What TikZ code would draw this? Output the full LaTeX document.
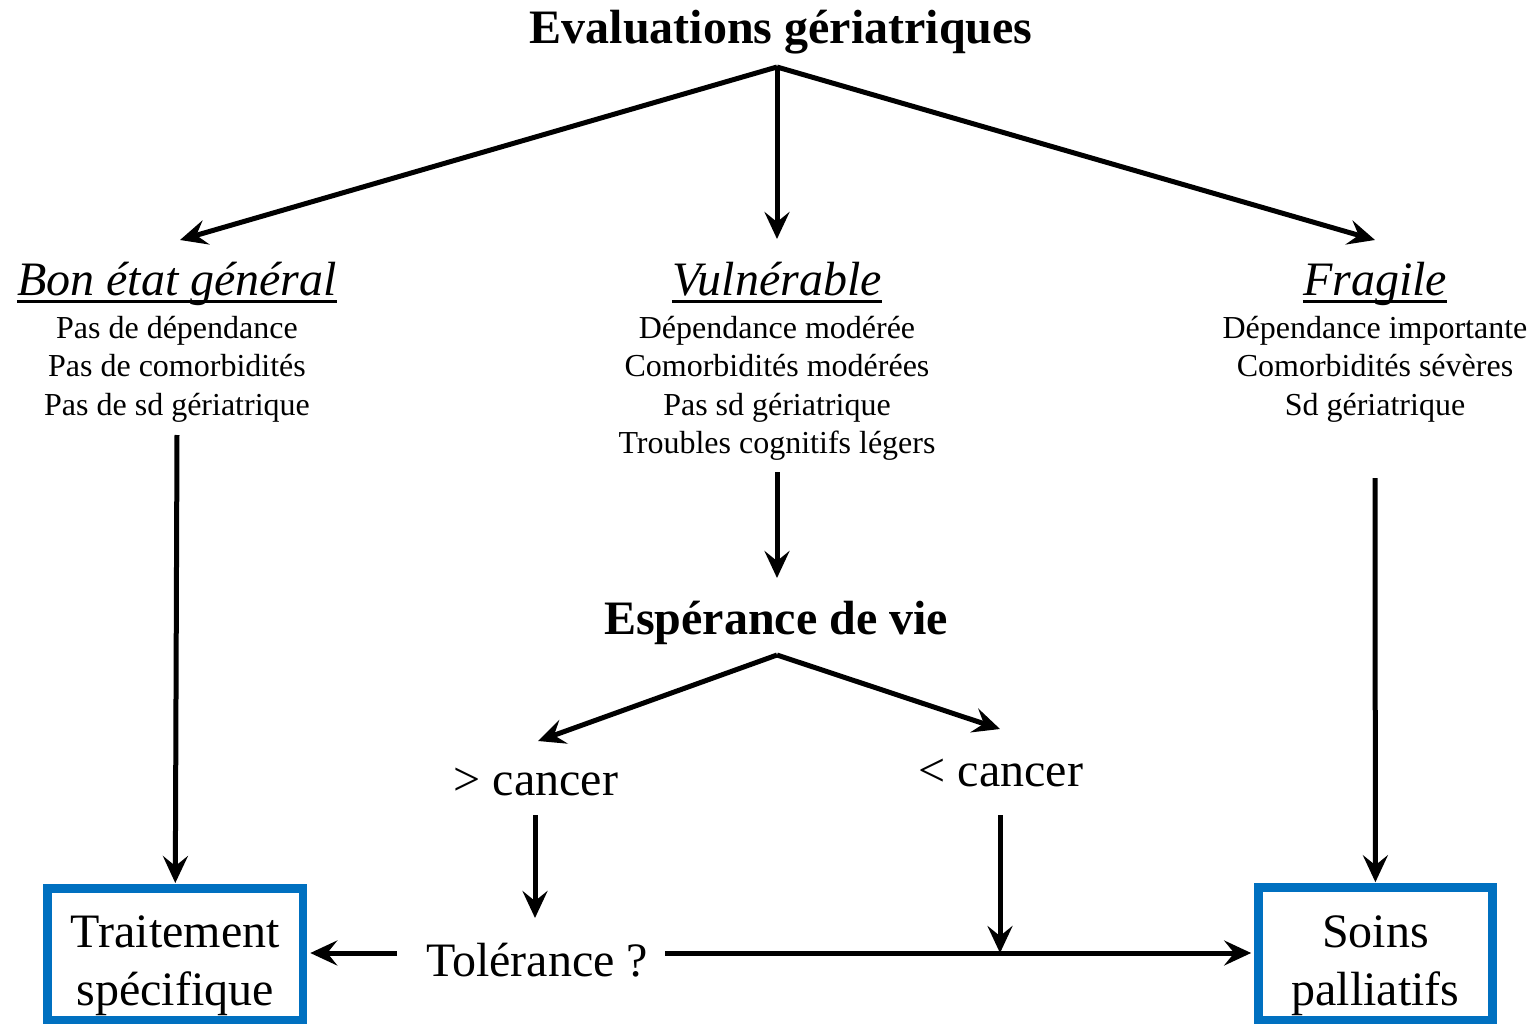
\documentclass[tikz,border=0pt]{standalone}
\usepackage{fontspec}
\setmainfont{Liberation Serif}
\usetikzlibrary{arrows.meta}
\definecolor{boxblue}{RGB}{0,112,192}
\tikzset{
  arr/.style={line width=5pt,-{Stealth[length=27pt,width=25pt,inset=10pt]}},
  bigbold/.style={font=\fontsize{48}{58}\selectfont\bfseries,inner sep=0pt},
  cat/.style={font=\fontsize{48}{58}\selectfont\itshape,inner sep=0pt,anchor=base},
  sub/.style={font=\fontsize{32}{38.5}\selectfont,align=center,inner sep=0pt,anchor=north},
  big/.style={font=\fontsize{48}{58}\selectfont,inner sep=0pt},
  endbox/.style={draw=boxblue,line width=8.5pt,font=\fontsize{48}{58}\selectfont,align=center,inner sep=0pt}
}
\begin{document}
\begin{tikzpicture}[x=1pt,y=-1pt]
\useasboundingbox (0,0) rectangle (1533,1024);
% title
\node[bigbold] (title) at (781,32) {Evaluations gériatriques};
\coordinate (top) at (777,67);
\coordinate (tl) at (180,240);
\coordinate (tm) at (777,239);
\coordinate (tr) at (1375,240);
\draw[arr] (top) -- (tl);
\draw[arr] (top) -- (tm);
\draw[arr] (top) -- (tr);
% categories
\node[cat] (bon) at (177,295) {Bon état général};
\node[cat] (vul) at (777,295) {Vulnérable};
\node[cat] (fra) at (1375,295) {Fragile};
\draw[line width=3pt] ([yshift=-6pt]bon.base west) -- ([yshift=-6pt]bon.base east);
\draw[line width=3pt] ([yshift=-6pt]vul.base west) -- ([yshift=-6pt]vul.base east);
\draw[line width=3pt] ([yshift=-6pt]fra.base west) -- ([yshift=-6pt]fra.base east);
\node[sub] (bonsub) at (177,316) {Pas de dépendance\\Pas de comorbidités\\Pas de sd gériatrique};
\node[sub] (vulsub) at (777,316) {Dépendance modérée\\Comorbidités modérées\\Pas sd gériatrique\\Troubles cognitifs légers};
\node[sub] (frasub) at (1375,316) {Dépendance importante\\Comorbidités sévères\\Sd gériatrique};
% espérance
\node[bigbold] (esp) at (776,623) {Espérance de vie};
\coordinate (espb) at (777,655);
\node[big] (gt) at (536,782) {> cancer};
\node[big] (lt) at (1001,773) {< cancer};
\node[big] (tol) at (537,960) {Tolérance ?};
% boxes
\node[endbox,minimum width=255.5pt,minimum height=131.5pt] (trait) at (175.3,954) {\rule{0pt}{55pt}Traitement\\spécifique};
\node[endbox,minimum width=234pt,minimum height=132.5pt] (soins) at (1375.4,953.7) {\rule{0pt}{55pt}Soins\\palliatifs};
% connectors
\coordinate (vulb) at (777,472);
\coordinate (espt) at (777,578);
\draw[arr] (vulb) -- (espt);
\coordinate (gtt) at (538,741);
\coordinate (ltt) at (1000,729);
\draw[arr] (espb) -- (gtt);
\draw[arr] (espb) -- (ltt);
\coordinate (bonb) at (177,435);
\draw[arr] (bonb) -- ([yshift=1pt]trait.north);
\coordinate (frab) at (1375,478);
\draw[arr] (frab) -- ([yshift=1pt]soins.north);
\coordinate (gtb) at (535,815);
\coordinate (tolt) at (535,918);
\draw[arr] (gtb) -- (tolt);
\coordinate (tolw) at (397,953);
\draw[arr] (tolw) -- ([xshift=3pt]trait.east |- tolw);
\coordinate (tole) at (665,953);
\draw[arr] (tole) -- ([xshift=-3pt]soins.west |- tole);
\coordinate (ltb) at (1000,815);
\coordinate (join) at (1000,953);
\draw[arr] (ltb) -- (join);
\end{tikzpicture}
\end{document}
